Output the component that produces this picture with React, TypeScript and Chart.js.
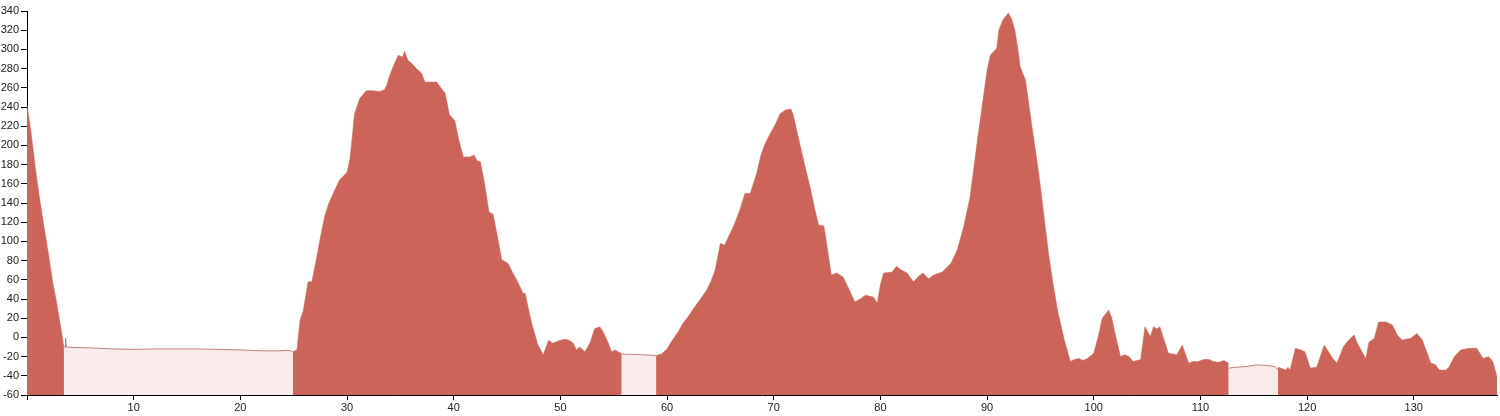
import React, { useEffect, useRef } from "react";
import { Chart, registerables } from "chart.js";

Chart.register(...registerables);

// Elevation profile (km, metres). Red = road, pale = ferry crossings.
const road1Km = [0, 0.4, 0.8, 1.2, 1.6, 2.0, 2.4, 2.8, 3.1, 3.46];
const road1Elev = [242, 212, 175, 143, 115, 88, 58, 35, 15, -10];

const ferry1Km = [3.46, 3.58, 3.62, 3.66, 4.5, 6, 8, 10, 12, 14, 16, 18, 20, 22, 23.5, 24.4, 24.7, 24.9];
const ferry1Elev = [-10, -10, -1, -10, -10.5, -11, -12, -12.5, -12, -12, -12, -12.5, -13, -14, -14, -13.5, -13.8, -15];

const road2Km = [
  24.9, 25.3, 25.6, 25.9, 26.35, 26.7, 27.1, 27.5, 27.9, 28.3, 28.7, 29.3, 30.0, 30.26, 30.5, 30.7,
  31.2, 31.8, 32.5, 33.0, 33.5, 33.7, 34.0, 34.4, 34.8, 35.2, 35.4, 35.7, 36.1, 36.5, 37.0, 37.3,
  38.0, 38.4, 38.8, 39.2, 39.6, 40.1, 40.5, 40.9, 41.5, 41.9, 42.2, 42.5, 42.9, 43.3, 43.7, 44.1,
  44.5, 45.1, 45.5, 45.9, 46.5, 46.7, 47.0, 47.3, 47.9, 48.4, 48.9, 49.3, 49.96, 50.5, 50.9, 51.2,
  51.5, 51.8, 52.3, 52.8, 53.2, 53.7, 54.0, 54.5, 54.8, 55.1, 55.75,
];
const road2Elev = [
  -15, -13, 18, 28, 58, 58, 80, 104, 126, 140, 150, 164, 172, 185, 210, 233,
  249, 257, 257, 256, 258, 262, 273, 284, 294, 292, 298, 289, 285, 280, 275, 266,
  266, 266, 260, 254, 232, 226, 205, 188, 188, 190, 184, 183, 160, 131, 128, 105,
  81, 77, 68, 60, 46, 46, 30, 15, -8, -18, -3, -6, -3, -2, -3.5, -6,
  -13, -10, -15, -5, 9, 11, 6, -6, -15, -13, -17,
];

const ferry2Km = [55.75, 56.5, 57.5, 58.5, 58.97];
const ferry2Elev = [-17.5, -17.6, -18, -18.5, -19];

const road3Km = [
  58.97, 59.5, 60.0, 60.4, 61.0, 61.5, 62.0, 62.6, 63.2, 63.7, 64.1, 64.5, 65.0, 65.4, 65.8, 66.2,
  66.8, 67.3, 67.8, 68.4, 68.8, 69.2, 69.7, 70.2, 70.6, 71.1, 71.6, 71.8, 72.5, 73.0, 73.4, 73.8,
  74.2, 74.7, 75.0, 75.4, 75.9, 76.5, 77.1, 77.6, 78.1, 78.6, 79.35, 79.7, 80.0, 80.3, 81.1, 81.5,
  82.0, 82.5, 83.1, 83.6, 84.0, 84.5, 85.0, 85.8, 86.6, 87.2, 87.8, 88.4, 88.8, 89.05, 89.4, 89.7,
  90.0, 90.3, 90.9, 91.1, 91.5, 92.0, 92.3, 92.6, 92.9, 93.1, 93.6, 94.2, 94.6, 95.0, 95.4, 95.8,
  96.2, 96.6, 97.2, 97.8, 98.2, 98.6, 99.0, 99.4, 100.0, 100.4, 100.8, 101.4, 101.7, 102.0, 102.5, 102.9,
  103.3, 103.7, 104.4, 104.8, 105.0, 105.3, 105.6, 105.9, 106.2, 106.6, 107.0, 107.8, 108.3, 108.9, 109.3, 109.8,
  110.3, 110.8, 111.2, 111.7, 112.2, 112.65,
];
const road3Elev = [
  -19, -17, -12, -4.5, 5, 14.7, 22, 32, 41, 49, 58, 70, 98, 96, 106, 115,
  132, 150, 150, 171, 190, 202, 213, 223, 233, 237, 238, 233, 199, 175, 157, 136,
  117, 116, 95, 65, 67, 63, 49, 37, 40, 44, 42, 35.5, 55, 67, 68, 74,
  70, 67, 58, 64, 67, 61, 65, 68, 77, 91, 115, 146, 180, 202, 230, 254,
  278, 294, 301, 320, 331, 338, 332, 320, 300, 282, 268, 220, 190, 157, 120, 84,
  55, 28.5, -1, -25, -23, -22, -24, -22, -16.6, 0, 20, 28.5, 20, 4, -20, -18,
  -20, -25, -23, 11, 7, 0.8, 11, 9, 11, -3, -16.6, -18, -8, -27, -25, -25,
  -23, -23, -25, -26, -24, -27,
];

const ferry3Km = [112.65, 113.5, 114.5, 115.2, 115.9, 116.5, 117.0, 117.25];
const ferry3Elev = [-32, -31, -30, -28.7, -29, -29.5, -30.5, -34];

const road4Km = [
  117.25, 117.3, 118.0, 118.2, 118.4, 118.9, 119.4, 119.8, 120.3, 120.9, 121.6, 121.9, 122.4, 122.8, 123.4, 123.9,
  124.4, 124.7, 125.3, 125.5, 125.8, 126.3, 126.7, 127.4, 128.0, 128.45, 128.9, 129.7, 130.3, 130.8, 131.6, 132.0,
  132.4, 133.0, 133.3, 133.8, 134.4, 135.2, 135.9, 136.5, 137.0, 137.4, 137.8,
];
const road4Elev = [
  -34, -31, -34, -31, -34, -11.4, -13, -15, -32, -31, -8, -13, -21.8, -27, -9.7, -2.7,
  2.5, -6, -18, -22, -5, -1, 16, 16, 12.9, 2.5, -2.7, -1, 4, -2.7, -27, -28,
  -34, -34, -31, -20, -13, -11.4, -11.4, -22, -20, -25, -41,
];

const X_MIN = 0;
const X_MAX = 137.8;
const Y_MIN = -60;
const Y_MAX = 340;

const ROAD_COLOR = "#cd645a";
const FERRY_FILL = "#f9ebeb";
const FERRY_LINE = "rgba(175,110,105,0.85)";

const zip = (xs: number[], ys: number[]) => xs.map((x, i) => ({ x, y: ys[i] }));

function roadSet(xs: number[], ys: number[]) {
  return {
    data: zip(xs, ys),
    backgroundColor: ROAD_COLOR,
    borderColor: ROAD_COLOR,
    borderWidth: 0.5,
    fill: "start",
    pointRadius: 0,
    tension: 0,
  };
}
function ferrySet(xs: number[], ys: number[]) {
  return {
    data: zip(xs, ys),
    backgroundColor: FERRY_FILL,
    borderColor: FERRY_LINE,
    borderWidth: 1,
    fill: "start",
    pointRadius: 0,
    tension: 0,
  };
}

export default function App() {
  const ref = useRef<HTMLCanvasElement | null>(null);

  useEffect(() => {
    if (!ref.current) return;
    const font = { family: "'Liberation Sans', Arial, sans-serif", size: 11 };
    const chart = new Chart(ref.current, {
      type: "line",
      data: {
        datasets: [
          roadSet(road1Km, road1Elev),
          ferrySet(ferry1Km, ferry1Elev),
          roadSet(road2Km, road2Elev),
          ferrySet(ferry2Km, ferry2Elev),
          roadSet(road3Km, road3Elev),
          ferrySet(ferry3Km, ferry3Elev),
          roadSet(road4Km, road4Elev),
        ] as any,
      },
      options: {
        animation: false,
        responsive: false,
        layout: { padding: { top: 11, right: 3, left: 0, bottom: 0 } },
        plugins: { legend: { display: false }, tooltip: { enabled: false } },
        scales: {
          x: {
            type: "linear",
            min: X_MIN,
            max: X_MAX,
            afterFit: (s: any) => {
              s.height = 21;
            },
            border: { display: true, color: "#000", width: 1 },
            grid: { display: true, drawOnChartArea: false, drawTicks: true, tickLength: 5, color: "#000" },
            ticks: {
              stepSize: 10,
              includeBounds: false,
              autoSkip: false,
              maxRotation: 0,
              padding: 1,
              color: "#222",
              font,
              callback: (v: any) => (v === 0 ? "" : String(v)),
            },
          },
          y: {
            type: "linear",
            min: Y_MIN,
            max: Y_MAX,
            afterFit: (s: any) => {
              s.width = 27;
            },
            border: { display: true, color: "#000", width: 1 },
            grid: { display: true, drawOnChartArea: false, drawTicks: true, tickLength: 6, color: "#000" },
            ticks: {
              stepSize: 20,
              autoSkip: false,
              padding: 2,
              color: "#222",
              font,
            },
          },
        },
      } as any,
    });
    return () => chart.destroy();
  }, []);

  return (
    <div style={{ position: "absolute", left: 0, top: 0, width: 1500, height: 416, background: "#fff" }}>
      <canvas ref={ref} width={1500} height={416} style={{ display: "block", width: 1500, height: 416 }} />
    </div>
  );
}
